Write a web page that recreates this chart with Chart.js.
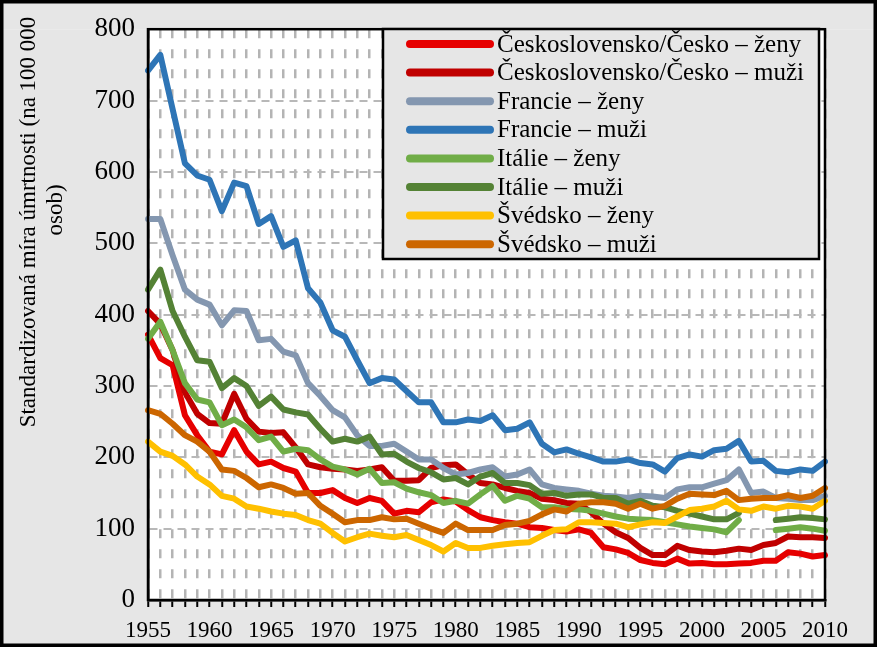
<!DOCTYPE html>
<html>
<head>
<meta charset="utf-8">
<script src="https://cdn.jsdelivr.net/npm/chart.js@4.4.1/dist/chart.umd.min.js"></script>
<style>
  html, body { margin: 0; padding: 0; background: #e6e6e6; }
  canvas { display: block; background: #ffffff; }
</style>
</head>
<body>
<canvas id="chart" width="877" height="647"></canvas>
<script>
const years = [
    1955, 1956, 1957, 1958, 1959, 1960, 1961, 1962, 1963, 1964,
    1965, 1966, 1967, 1968, 1969, 1970, 1971, 1972, 1973, 1974,
    1975, 1976, 1977, 1978, 1979, 1980, 1981, 1982, 1983, 1984,
    1985, 1986, 1987, 1988, 1989, 1990, 1991, 1992, 1993, 1994,
    1995, 1996, 1997, 1998, 1999, 2000, 2001, 2002, 2003, 2004,
    2005, 2006, 2007, 2008, 2009, 2010
];

const csZeny = [
    372, 339, 329, 259, 231, 208, 204, 238, 208, 190,
    194, 185, 180, 150, 150, 154, 143, 136, 143, 139,
    121, 125, 123, 137, 141, 138, 126, 116, 112, 109,
    107, 102, 101, 98, 96, 99, 94, 74, 71, 66,
    56, 52, 50, 58, 51, 52, 50, 50, 51, 52,
    55, 55, 67, 65, 61, 63
];
const csMuzi = [
    405, 387, 350, 291, 261, 248, 247, 289, 254, 236,
    234, 235, 214, 190, 186, 184, 183, 181, 183, 186,
    167, 167, 168, 185, 189, 190, 176, 164, 162, 157,
    153, 150, 142, 140, 136, 135, 123, 107, 95, 87,
    73, 63, 63, 76, 70, 68, 67, 69, 72, 70,
    77, 80, 89, 88, 88, 87
];
const frZeny = [
    534, 534, 483, 435, 421, 414, 385, 406, 405, 364,
    366, 348, 343, 304, 286, 266, 256, 231, 216, 216,
    219, 208, 197, 197, 185, 176, 178, 183, 186, 173,
    176, 183, 162, 157, 155, 153, 149, 146, 145, 143,
    146, 145, 143, 155, 158, 158, 163, 168, 183, 150,
    152, 143, 142, 140, 140, 146
];
const frMuzi = [
    742, 764, 688, 612, 595, 589, 545, 585, 580, 527,
    538, 495, 504, 437, 417, 378, 369, 336, 304, 311,
    309, 293, 277, 277, 249, 249, 253, 251, 259, 238,
    240, 249, 219, 207, 211, 205, 200, 194, 194, 197,
    192, 190, 180, 199, 204, 201, 210, 212, 223, 194,
    195, 181, 179, 183, 181, 194
];
const itZeny = [
    366, 390, 350, 304, 281, 277, 245, 253, 242, 224,
    229, 208, 212, 210, 197, 187, 183, 176, 184, 164,
    165, 156, 151, 147, 136, 139, 135, 148, 160, 139,
    146, 142, 130, 130, 128, 127, 125, 121, 117, 114,
    113, 112, 109, 106, 103, 101, 99, 95, 112, null,
    null, 98, 100, 102, 100, 97
];
const itMuzi = [
    435, 463, 405, 369, 336, 334, 297, 311, 300, 272,
    285, 267, 263, 260, 240, 222, 226, 222, 229, 204,
    205, 194, 185, 179, 169, 171, 162, 173, 178, 164,
    164, 161, 149, 150, 146, 148, 148, 143, 143, 135,
    139, 132, 130, 125, 121, 117, 113, 113, 122, null,
    null, 112, 114, 116, 115, 113
];
const seZeny = [
    222, 208, 202, 190, 173, 162, 146, 142, 131, 128,
    124, 121, 119, 112, 107, 94, 82, 88, 93, 90,
    88, 91, 84, 77, 68, 80, 73, 73, 76, 78,
    80, 81, 90, 98, 99, 109, 109, 108, 107, 102,
    106, 109, 108, 117, 126, 128, 131, 139, 127, 125,
    131, 128, 132, 131, 128, 139
];
const seMuzi = [
    266, 261, 247, 231, 222, 208, 183, 181, 171, 158,
    162, 157, 149, 150, 132, 121, 109, 112, 112, 116,
    113, 114, 107, 100, 94, 107, 98, 98, 98, 105,
    107, 111, 120, 127, 124, 135, 137, 137, 135, 128,
    135, 128, 132, 142, 149, 148, 147, 153, 140, 142,
    143, 143, 147, 143, 146, 157
];

const seriesNames = [
    'Československo/Česko – ženy',
    'Československo/Česko – muži',
    'Francie – ženy',
    'Francie – muži',
    'Itálie – ženy',
    'Itálie – muži',
    'Švédsko – ženy',
    'Švédsko – muži'
];
const seriesData = [csZeny, csMuzi, frZeny, frMuzi, itZeny, itMuzi, seZeny, seMuzi];
const seriesColors = ['#e60000', '#c00000', '#8497b0', '#2e75b6', '#70ad47', '#548235', '#ffc000', '#cc6600'];

const yTitle = ['Standardizovaná míra úmrtnosti (na 100 000', 'osob)'];

const FONT = "'Liberation Serif', 'Times New Roman', serif";
const GRAY_BG = '#e6e6e6';

function strokeSeg(ctx, x1, y1, x2, y2) {
    ctx.beginPath();
    ctx.moveTo(x1, y1);
    ctx.lineTo(x2, y2);
    ctx.stroke();
}

// gray margin around the white plot area; frame, legend box, axis title on top
const framePlugin = {
    id: 'frame',
    beforeDraw(chart) {
        const ctx = chart.ctx;
        const a = chart.chartArea;
        const w = chart.width, h = chart.height;
        ctx.save();
        ctx.fillStyle = GRAY_BG;
        ctx.fillRect(0, 0, w, a.top);
        ctx.fillRect(0, a.bottom, w, h - a.bottom);
        ctx.fillRect(0, a.top, a.left, a.bottom - a.top);
        ctx.fillRect(a.right, a.top, w - a.right, a.bottom - a.top);
        ctx.restore();
    },
    afterDraw(chart) {
        const ctx = chart.ctx;
        const a = chart.chartArea;
        ctx.save();

        // plot area border
        ctx.strokeStyle = '#000';
        ctx.lineWidth = 2.5;
        ctx.strokeRect(a.left, a.top, a.right - a.left, a.bottom - a.top);

        // legend box
        const lx = 383, ly = 29, lw = 436, lh = 230;
        ctx.fillStyle = GRAY_BG;
        ctx.fillRect(lx, ly, lw, lh);
        ctx.strokeRect(lx, ly, lw, lh);
        ctx.font = '25px ' + FONT;
        ctx.textBaseline = 'middle';
        ctx.textAlign = 'left';
        chart.data.datasets.forEach((ds, i) => {
            const y = 44 + i * 28.6;
            ctx.strokeStyle = ds.borderColor;
            ctx.lineWidth = 8;
            ctx.lineCap = 'round';
            strokeSeg(ctx, 410, y, 490, y);
            ctx.fillStyle = '#000';
            ctx.fillText(ds.label, 497, y + 1);
        });

        // y axis title
        ctx.fillStyle = '#000';
        ctx.font = '23px ' + FONT;
        ctx.textAlign = 'center';
        ctx.textBaseline = 'middle';
        ctx.save();
        ctx.translate(29, 222);
        ctx.rotate(-Math.PI / 2);
        ctx.fillText(yTitle[0], 0, 0);
        ctx.restore();
        ctx.save();
        ctx.translate(56, 210);
        ctx.rotate(-Math.PI / 2);
        ctx.fillText(yTitle[1], 0, 0);
        ctx.restore();

        // outer border
        ctx.strokeStyle = '#000';
        ctx.lineWidth = 3.5;
        ctx.strokeRect(1.75, 1.75, chart.width - 3.5, chart.height - 3.5);
        ctx.restore();
    }
};

const datasets = seriesData.map((values, i) => ({
    label: seriesNames[i],
    data: values,
    borderColor: seriesColors[i],
    backgroundColor: seriesColors[i],
    borderWidth: 6,
    pointRadius: 0,
    tension: 0,
    borderJoinStyle: 'round',
    borderCapStyle: 'round',
    spanGaps: false,
    order: seriesData.length - i
}));

Chart.defaults.font.family = FONT;
Chart.defaults.color = '#000';

new Chart(document.getElementById('chart'), {
    type: 'line',
    data: { labels: years, datasets: datasets },
    options: {
        responsive: false,
        animation: false,
        layout: { padding: { top: 21, right: 52, bottom: 0, left: 0 } },
        plugins: {
            legend: { display: false },
            tooltip: { enabled: false }
        },
        scales: {
            x: {
                afterFit: function(scale) { scale.height = 47; },
                ticks: {
                    autoSkip: false,
                    maxRotation: 0,
                    padding: 10,
                    font: { size: 23 },
                    color: '#000',
                    callback: function(value, index) {
                        return years[index] % 5 === 0 ? String(years[index]) : '';
                    }
                },
                grid: {
                    color: '#b4b4b4',
                    lineWidth: 2.5,
                    tickColor: '#000',
                    tickLength: 7,
                    tickWidth: 2
                },
                border: { color: '#000', width: 2.5, dash: [9, 11] }
            },
            y: {
                min: 0,
                max: 800,
                afterFit: function(scale) { scale.width = 148; },
                ticks: {
                    stepSize: 100,
                    padding: 13,
                    font: { size: 27 },
                    color: '#000'
                },
                grid: {
                    color: '#b8b8b8',
                    lineWidth: 2,
                    drawTicks: false
                },
                border: { color: '#000', width: 2.5, dash: [8, 6] }
            }
        }
    },
    plugins: [framePlugin]
});
</script>
</body>
</html>
